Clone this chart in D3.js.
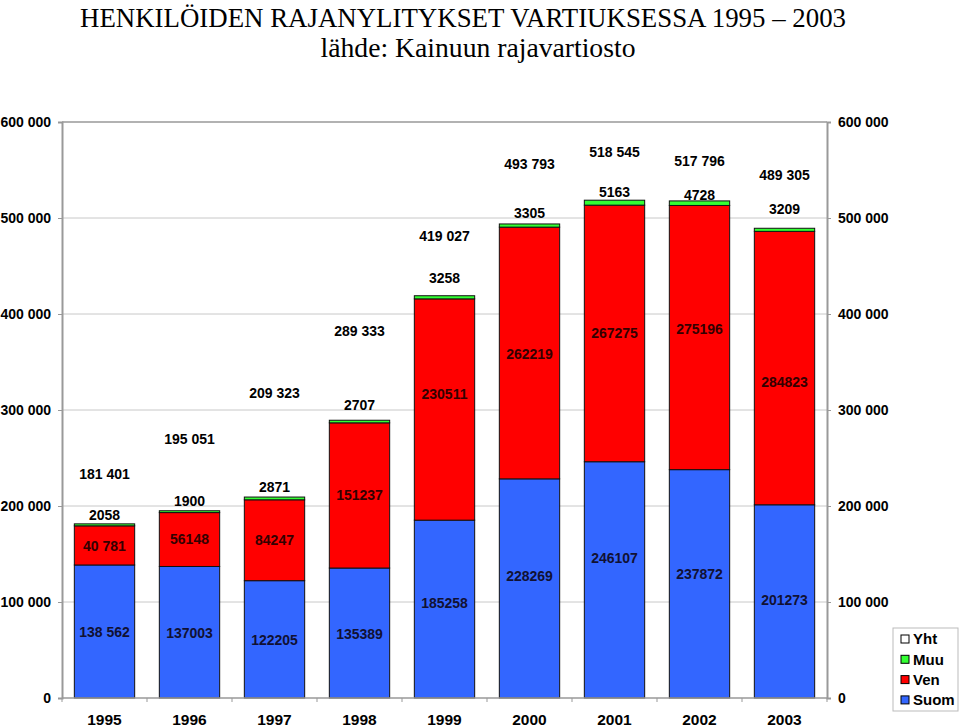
<!DOCTYPE html>
<head>
  <meta charset="utf-8" />
  <title>Henkilöiden rajanylitykset Vartiuksessa 1995 – 2003</title>
  <script src="https://d3js.org/d3.v7.min.js"></script>
  <style>
    body { margin: 0; background: #fff; }
    text { font-family: "Liberation Sans", Arial, sans-serif; }
  </style>
</head>
<body>
<script>
  const years = ["1995", "1996", "1997", "1998", "1999", "2000", "2001", "2002", "2003"];
  const suom = [138562, 137003, 122205, 135389, 185258, 228269, 246107, 237872, 201273];
  const ven = [40781, 56148, 84247, 151237, 230511, 262219, 267275, 275196, 284823];
  const muu = [2058, 1900, 2871, 2707, 3258, 3305, 5163, 4728, 3209];
  const yht = [181401, 195051, 209323, 289333, 419027, 493793, 518545, 517796, 489305];
  // how the labels were written in the source sheet
  const suomLabels = ["138 562", "137003", "122205", "135389", "185258", "228269", "246107", "237872", "201273"];
  const venLabels = ["40 781", "56148", "84247", "151237", "230511", "262219", "267275", "275196", "284823"];
  const muuLabels = ["2058", "1900", "2871", "2707", "3258", "3305", "5163", "4728", "3209"];
  const yhtLabels = ["181 401", "195 051", "209 323", "289 333", "419 027", "493 793", "518 545", "517 796", "489 305"];
  const yTicks = [0, 100000, 200000, 300000, 400000, 500000, 600000];
  const yTickLabels = ["0", "100 000", "200 000", "300 000", "400 000", "500 000", "600 000"];
  const legendKeys = ["Yht", "Muu", "Ven", "Suom"];

  // hand-dragged label nudges (px), as in the original sheet
  const nudge = {
    Suom: [1, 1, 1, 1, -6, -12, -22, -10, -1],
    Ven: [1, 0, 0, 0, -15, 1, 0, -8, 14],
    Muu: [1, 0, 0, -5, -8, -1, 2, 4, -9],
    Yht: [0, -22, -54, -39, -10, -10, 2, 10, -3],
  };

  const colors = { Suom: "#3366ff", Ven: "#ff0000", Muu: "#33ff33", Yht: "#ffffff" };

  const width = 960, height = 727;
  const margin = { top: 122, right: 133, bottom: 29, left: 62 };

  const table = years.map((y, i) => ({ year: y, Suom: suom[i], Ven: ven[i], Muu: muu[i] }));
  const series = d3.stack().keys(["Suom", "Ven", "Muu"])(table);

  const x = d3.scaleBand().domain(years)
    .range([margin.left, width - margin.right])
    .paddingInner(0.29).paddingOuter(0.145);
  const y = d3.scaleLinear().domain([0, 600000]).range([height - margin.bottom, margin.top]);

  const svg = d3.select("body").append("svg")
    .attr("width", width).attr("height", height);

  // title
  svg.append("text")
    .attr("x", 463).attr("y", 27)
    .attr("text-anchor", "middle")
    .attr("textLength", 766).attr("lengthAdjust", "spacingAndGlyphs")
    .style("font-family", "'Liberation Serif', 'Times New Roman', serif")
    .style("font-size", "28px")
    .text("HENKILÖIDEN RAJANYLITYKSET VARTIUKSESSA 1995 – 2003");
  svg.append("text")
    .attr("x", 478).attr("y", 57)
    .attr("text-anchor", "middle")
    .attr("textLength", 315).attr("lengthAdjust", "spacingAndGlyphs")
    .style("font-family", "'Liberation Serif', 'Times New Roman', serif")
    .style("font-size", "28px")
    .text("lähde: Kainuun rajavartiosto");

  // gridlines
  svg.append("g")
    .selectAll("line")
    .data(yTicks.slice(1))
    .join("line")
    .attr("x1", margin.left).attr("x2", width - margin.right)
    .attr("y1", (d) => y(d)).attr("y2", (d) => y(d))
    .attr("stroke", (d) => (d === 600000 ? "#999" : "#c8c8c8"))
    .attr("stroke-width", (d) => (d === 600000 ? 1.5 : 1));

  // left and right axes
  const fmt = (d) => yTickLabels[yTicks.indexOf(d)];
  const left = svg.append("g")
    .attr("transform", `translate(${margin.left},0)`)
    .call(d3.axisLeft(y).tickValues(yTicks).tickFormat(fmt).tickSize(4).tickPadding(7));
  const right = svg.append("g")
    .attr("transform", `translate(${width - margin.right},0)`)
    .call(d3.axisRight(y).tickValues(yTicks).tickFormat(fmt).tickSize(4).tickPadding(7));
  [left, right].forEach((g) => {
    g.select(".domain").attr("stroke", "#999").attr("stroke-width", 2);
    g.selectAll(".tick line").attr("stroke", "#999");
    g.selectAll("text").attr("fill", "#000")
      .style("font-size", "14px").style("font-weight", "bold");
  });

  // bars
  svg.append("g")
    .selectAll("g")
    .data(series)
    .join("g")
    .attr("fill", (s) => colors[s.key])
    .selectAll("rect")
    .data((s) => s)
    .join("rect")
    .attr("x", (d) => x(d.data.year))
    .attr("width", x.bandwidth())
    .attr("y", (d) => y(d[1]))
    .attr("height", (d) => y(d[0]) - y(d[1]))
    .attr("stroke", "#111")
    .attr("stroke-width", 1);

  // bottom axis
  const bottom = svg.append("g")
    .attr("transform", `translate(0,${height - margin.bottom})`);
  bottom.append("line")
    .attr("x1", margin.left).attr("x2", width - margin.right)
    .attr("stroke", "#999").attr("stroke-width", 1.5);
  const step = x.step();
  bottom.selectAll("line.tk")
    .data(d3.range(years.length + 1))
    .join("line")
    .attr("class", "tk")
    .attr("x1", (i) => margin.left + i * step).attr("x2", (i) => margin.left + i * step)
    .attr("y1", 0).attr("y2", 4)
    .attr("stroke", "#999");
  bottom.selectAll("text")
    .data(years)
    .join("text")
    .attr("x", (d) => x(d) + x.bandwidth() / 2)
    .attr("y", 22)
    .attr("dy", "0.35em")
    .attr("text-anchor", "middle")
    .style("font-size", "15.5px").style("font-weight", "bold")
    .text((d) => d);

  // data labels
  const labels = svg.append("g")
    .attr("text-anchor", "middle")
    .style("font-size", "14px").style("font-weight", "bold");
  const cx = (i) => x(years[i]) + x.bandwidth() / 2;
  const addLabels = (key, texts, posFn, fill) => {
    labels.append("g")
      .selectAll("text")
      .data(texts)
      .join("text")
      .attr("x", (d, i) => cx(i))
      .attr("y", (d, i) => posFn(i) + nudge[key][i])
      .attr("dy", "0.35em")
      .attr("fill", fill)
      .text((d) => d);
  };
  addLabels("Suom", suomLabels, (i) => y(suom[i] / 2), "#111133");
  addLabels("Ven", venLabels, (i) => y(suom[i] + ven[i] / 2), "#330000");
  addLabels("Muu", muuLabels, (i) => y(suom[i] + ven[i] + muu[i]) - 10, "#000");
  addLabels("Yht", yhtLabels, (i) => y(yht[i]) - 50, "#000");

  // legend
  const legend = svg.append("g").attr("transform", "translate(893,628)");
  legend.append("rect")
    .attr("width", 65).attr("height", 83)
    .attr("fill", "#fff").attr("stroke", "#bbb");
  const item = legend.selectAll("g")
    .data(legendKeys)
    .join("g")
    .attr("transform", (d, i) => `translate(8,${11 + i * 20.3})`);
  item.append("rect")
    .attr("x", 0).attr("y", -4)
    .attr("width", 8).attr("height", 8)
    .attr("fill", (d) => colors[d])
    .attr("stroke", "#000").attr("stroke-width", 1);
  item.append("text")
    .attr("x", 12).attr("dy", "0.35em")
    .style("font-size", "15px").style("font-weight", "bold")
    .text((d) => d);
</script>
</body>
